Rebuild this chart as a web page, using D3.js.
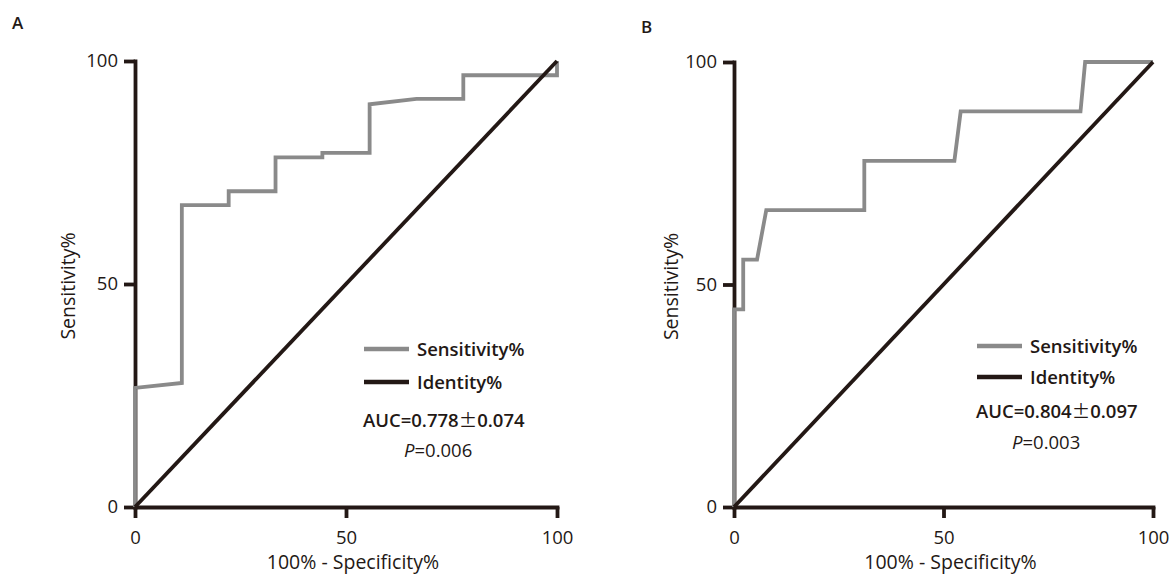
<!DOCTYPE html>
<meta charset="utf-8">
<style>
  body { margin: 0; background: #fff; }
  text { font-family: "Open Sans", "Noto Sans", sans-serif; fill: #231815; }
</style>
<svg id="chart" width="1173" height="574"></svg>
<script src="https://d3js.org/d3.v7.min.js"></script>
<script>

// panel A: ROC points (x = 100% - specificity, y = sensitivity)
var fprA  = [0, 0, 11.1, 11.1, 22.2, 22.2, 33.3, 33.3, 44.4, 44.4, 55.6, 55.6, 66.7, 77.8, 77.8, 100, 100];
var sensA = [0, 26.7, 27.8, 67.7, 67.7, 70.8, 70.8, 78.4, 78.4, 79.4, 79.4, 90.3, 91.5, 91.5, 96.8, 96.8, 100];

// panel B
var fprB  = [0, 0, 2.2, 2.2, 5.5, 7.7, 31.1, 31.1, 52.6, 54.1, 82.7, 83.8, 100];
var sensB = [0, 44.4, 44.4, 55.6, 55.6, 66.7, 66.7, 77.8, 77.8, 88.9, 88.9, 100, 100];

var identity = [0, 100];
var ticks = [0, 50, 100];
var legendLabels = ["Sensitivity%", "Identity%"];
var aucLabels = ["AUC=0.778", "AUC=0.804"];
var aucErr = ["0.074", "0.097"];
var pLabels = ["=0.006", "=0.003"];
var panelLabels = ["A", "B"];

var grey = "#8a8a8a", ink = "#231815";
var svg = d3.select("#chart");

var panels = [
  {fpr: fprA, sens: sensA, left: 135, right: 557, top: 61, bottom: 507,
   tag: [12, 29], ytitle: 75, leg: {x: 364, y: 349, gap: 33, auc: 427, p: 457, px: 404}},
  {fpr: fprB, sens: sensB, left: 734, right: 1153, top: 62, bottom: 507,
   tag: [641, 33], ytitle: 678, leg: {x: 977, y: 346, gap: 31, auc: 418, p: 449, px: 1012}}
];

function drawPanel(p, i) {
  var x = d3.scaleLinear().domain([0, 100]).range([p.left, p.right]);
  var y = d3.scaleLinear().domain([0, 100]).range([p.bottom, p.top]);
  var g = svg.append("g");

  var xa = g.append("g")
      .attr("transform", "translate(0," + p.bottom + ")")
      .call(d3.axisBottom(x).tickValues(ticks).tickSize(11).tickSizeOuter(0).tickPadding(8));
  var ya = g.append("g")
      .attr("transform", "translate(" + p.left + ",0)")
      .call(d3.axisLeft(y).tickValues(ticks).tickSize(11).tickSizeOuter(0).tickPadding(6));

  [xa, ya].forEach(function(a) {
    a.select(".domain").attr("stroke", ink).attr("stroke-width", 3.8).attr("stroke-linecap", "square");
    a.selectAll(".tick line").attr("stroke", ink).attr("stroke-width", 3.8);
    a.selectAll(".tick text").style("font-size", "18.5px").attr("fill", ink);
  });
  xa.selectAll(".tick text").attr("dy", "0.95em");

  var line = d3.line()
      .x(function(d) { return x(d[0]); })
      .y(function(d) { return y(d[1]); });

  g.append("path")
      .datum(d3.zip(p.fpr, p.sens))
      .attr("fill", "none")
      .attr("stroke", grey)
      .attr("stroke-width", 3.8)
      .attr("stroke-linejoin", "miter")
      .attr("d", line);

  g.append("path")
      .datum(d3.zip(identity, identity))
      .attr("fill", "none")
      .attr("stroke", ink)
      .attr("stroke-width", 3.8)
      .attr("d", line);

  // axis titles
  g.append("text")
      .attr("x", (p.left + p.right) / 2 + 7)
      .attr("y", 569)
      .attr("text-anchor", "middle")
      .style("font-size", "19.5px")
      .text("100% - Specificity%");

  g.append("text")
      .attr("transform", "translate(" + p.ytitle + "," + ((p.top + p.bottom) / 2 + 2) + ") rotate(-90)")
      .attr("text-anchor", "middle")
      .style("font-size", "19.5px")
      .text("Sensitivity%");

  g.append("text")
      .attr("x", p.tag[0])
      .attr("y", p.tag[1])
      .style("font-size", "17px")
      .style("font-weight", 600)
      .text(panelLabels[i]);

  // legend
  var L = p.leg;
  [grey, ink].forEach(function(c, k) {
    var yy = L.y + k * L.gap;
    g.append("line")
        .attr("x1", L.x).attr("x2", L.x + 45)
        .attr("y1", yy).attr("y2", yy)
        .attr("stroke", c).attr("stroke-width", 4.5);
    g.append("text")
        .attr("x", L.x + 53).attr("y", yy)
        .attr("dy", "0.36em")
        .style("font-size", "18.5px")
        .style("font-weight", 600)
        .text(legendLabels[k]);
  });

  var auc = g.append("text")
      .attr("x", L.x - 1).attr("y", L.auc)
      .style("font-size", "18.5px")
      .style("font-weight", 600);
  auc.append("tspan").text(aucLabels[i]);
  auc.append("tspan").style("font-family", "'Noto Sans CJK SC'").style("font-weight", 400).text("±");
  auc.append("tspan").text(aucErr[i]);

  var pt = g.append("text")
      .attr("x", L.px).attr("y", L.p)
      .style("font-size", "18.5px");
  pt.append("tspan").style("font-style", "italic").text("P");
  pt.append("tspan").text(pLabels[i]);
}

panels.forEach(drawPanel);

</script>
